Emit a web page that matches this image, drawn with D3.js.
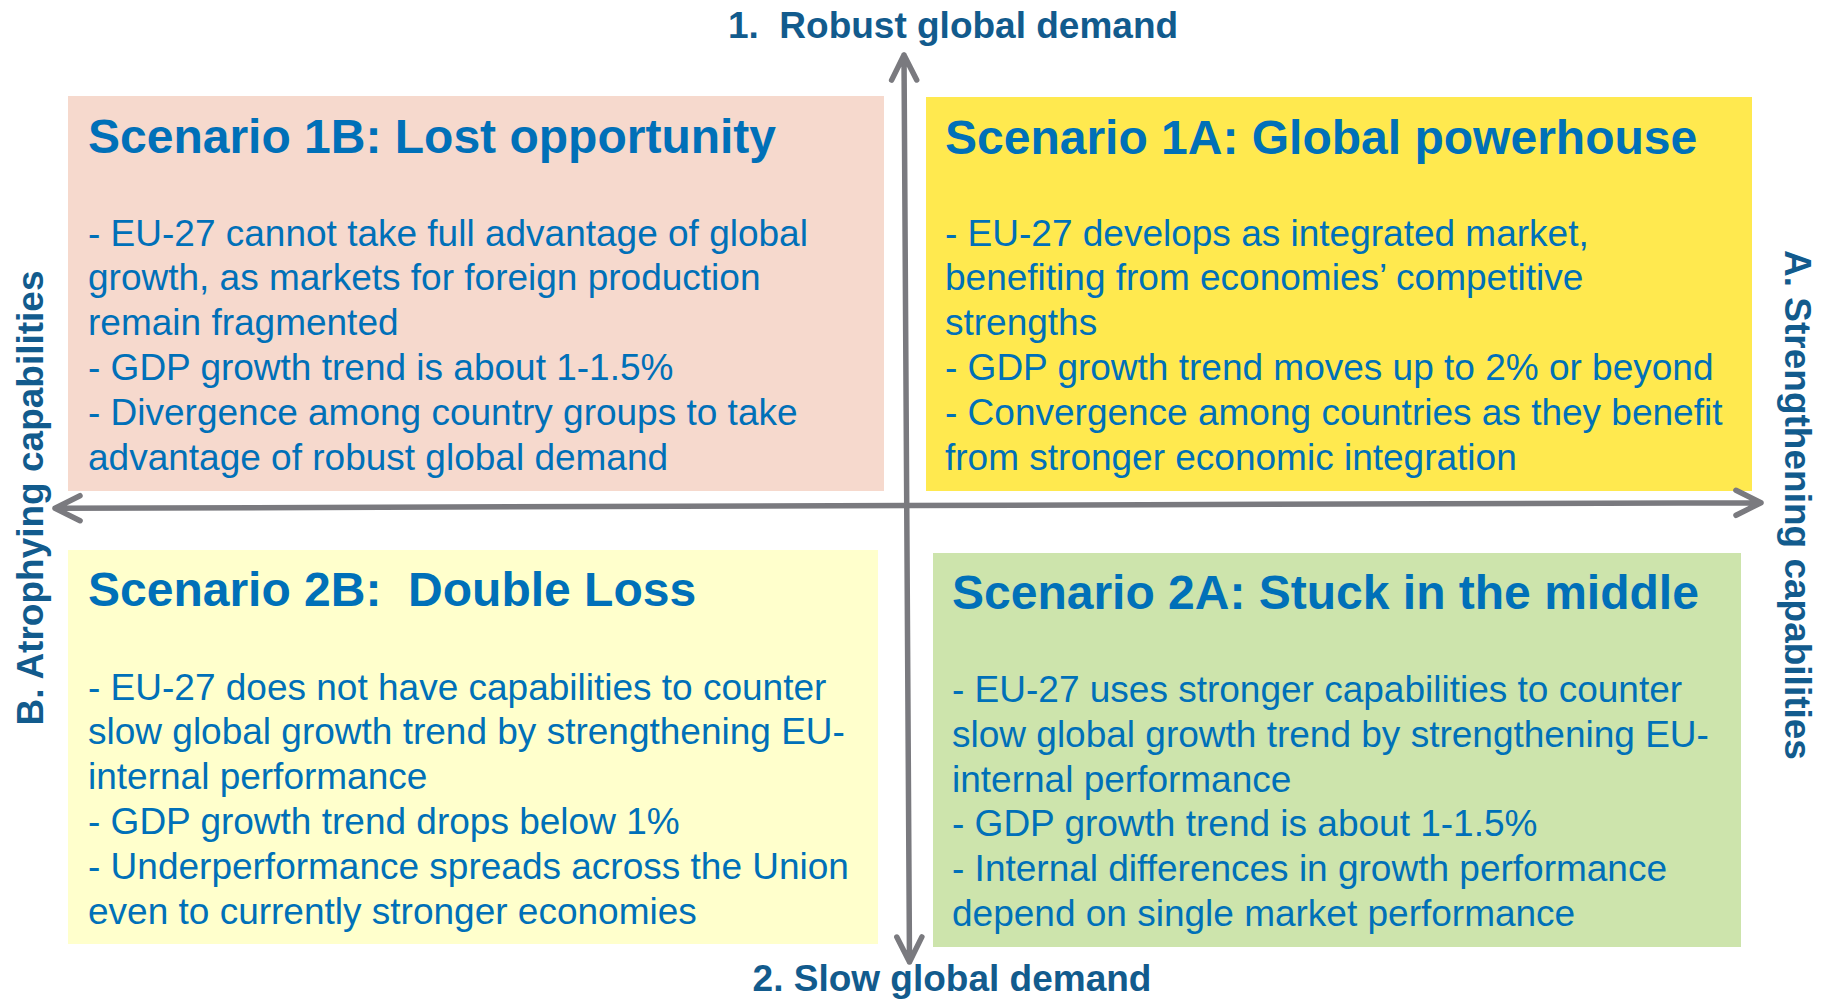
<!DOCTYPE html>
<meta charset="utf-8">
<html>
<head>
    <title>EU-27 growth scenarios</title>
    <script src="https://cdn.jsdelivr.net/npm/d3@7"></script>
</head>

<style>
    body{
        margin: 0;
        background: white;
    }
    svg{
        display: block;
    }
    text{
        font-family: "Liberation Sans", Arial, sans-serif;
        white-space: pre;
    }
    .title{
        font-size: 48px;
        font-weight: bold;
        fill: #0070b8;
    }
    .bullet{
        font-size: 37px;
        fill: #0070b8;
    }
    .axislabel{
        font-size: 37px;
        font-weight: bold;
        fill: #125b8d;
    }
    .arrow{
        stroke: #7a7a7f;
        stroke-width: 5.5px;
        fill: none;
        stroke-linecap: round;
        stroke-linejoin: round;
    }
</style>

<body>
<svg width="1825" height="999"></svg>

<script>
    // quadrant ids: demand row (1 robust / 2 slow) + capability column (A strengthening / B atrophying)
    const quadrants = ["1B", "1A", "2B", "2A"];
    const titles = [
        "Scenario 1B: Lost opportunity",
        "Scenario 1A: Global powerhouse",
        "Scenario 2B:  Double Loss",
        "Scenario 2A: Stuck in the middle"
    ];
    const bullets = [
        ["- EU-27 cannot take full advantage of global",
         "growth, as markets for foreign production",
         "remain fragmented",
         "- GDP growth trend is about 1-1.5%",
         "- Divergence among country groups to take",
         "advantage of robust global demand"],
        ["- EU-27 develops as integrated market,",
         "benefiting from economies\u2019 competitive",
         "strengths",
         "- GDP growth trend moves up to 2% or beyond",
         "- Convergence among countries as they benefit",
         "from stronger economic integration"],
        ["- EU-27 does not have capabilities to counter",
         "slow global growth trend by strengthening EU-",
         "internal performance",
         "- GDP growth trend drops below 1%",
         "- Underperformance spreads across the Union",
         "even to currently stronger economies"],
        ["- EU-27 uses stronger capabilities to counter",
         "slow global growth trend by strengthening EU-",
         "internal performance",
         "- GDP growth trend is about 1-1.5%",
         "- Internal differences in growth performance",
         "depend on single market performance"]
    ];
    const fills = ["#f6d9cd", "#ffe94f", "#ffffcc", "#cde4ac"];

    const demandLabels = ["1.  Robust global demand", "2. Slow global demand"];
    const capabilityLabels = ["A. Strengthening capabilities", "B. Atrophying capabilities"];

    const svg = d3.select("svg");

    // ***************************************
    //        layout scales
    // ***************************************
    const boxX0 = d3.scaleOrdinal(quadrants, [68, 926, 68, 933]);
    const boxX1 = d3.scaleOrdinal(quadrants, [884, 1752, 878, 1741]);
    const boxY0 = d3.scaleOrdinal(quadrants, [96, 97, 550, 553]);
    const boxY1 = d3.scaleOrdinal(quadrants, [491, 491, 944, 947]);
    const textX = d3.scaleOrdinal(quadrants, [88, 945, 88, 952]);
    const titleY = d3.scaleOrdinal(quadrants, [153, 154, 606, 609]);
    const firstLineY = d3.scaleOrdinal(quadrants, [245.5, 245.5, 699.5, 702]);
    const lineY = d3.scaleLinear().domain([0, 1]).range([0, 44.8]);

    // axes: capability runs left (-1) to right (+1), demand runs slow (-1) to robust (+1)
    const capX = d3.scaleLinear().domain([-1, 1]).range([55, 1761]);
    const capY = d3.scaleLinear().domain([-1, 1]).range([508.3, 502.7]);
    const demY = d3.scaleLinear().domain([-1, 1]).range([962, 55]);
    const demX = d3.scaleLinear().domain([-1, 1]).range([909.5, 904]);

    const data = quadrants.map((q, i) => ({id: q, title: titles[i], lines: bullets[i], fill: fills[i]}));

    const cells = svg.selectAll("g.cell")
        .data(data)
        .join("g")
        .attr("class", "cell");

    cells.append("rect")
        .attr("x", d => boxX0(d.id))
        .attr("y", d => boxY0(d.id))
        .attr("width", d => boxX1(d.id) - boxX0(d.id))
        .attr("height", d => boxY1(d.id) - boxY0(d.id))
        .style("fill", d => d.fill);

    cells.append("text")
        .attr("class", "title")
        .attr("x", d => textX(d.id))
        .attr("y", d => titleY(d.id))
        .text(d => d.title);

    cells.each(function(d){
        d3.select(this).selectAll("text.bullet")
            .data(d.lines)
            .join("text")
            .attr("class", "bullet")
            .attr("x", textX(d.id))
            .attr("y", (t, i) => firstLineY(d.id) + lineY(i))
            .text(t => t);
    });

    // ***************************************
    //        arrows
    // ***************************************
    const arm = 28, ang = 26.6 * Math.PI / 180;
    function arrow(x1, y1, x2, y2){
        const a = Math.atan2(y2 - y1, x2 - x1);
        const l = [x2 - arm * Math.cos(a - ang), y2 - arm * Math.sin(a - ang)];
        const r = [x2 - arm * Math.cos(a + ang), y2 - arm * Math.sin(a + ang)];
        return `M${x1},${y1}L${x2},${y2}M${l[0]},${l[1]}L${x2},${y2}L${r[0]},${r[1]}`;
    }
    const axes = svg.append("g");
    // horizontal double arrow
    axes.append("path").attr("class", "arrow")
        .attr("d", arrow(capX(0), capY(0), capX(1), capY(1)) + arrow(capX(0), capY(0), capX(-1), capY(-1)));
    // vertical double arrow
    axes.append("path").attr("class", "arrow")
        .attr("d", arrow(demX(0), demY(0), demX(1), demY(1)) + arrow(demX(0), demY(0), demX(-1), demY(-1)));

    // ***************************************
    //        axis labels
    // ***************************************
    svg.append("text").attr("class", "axislabel")
        .attr("x", 953).attr("y", 37.5)
        .attr("text-anchor", "middle")
        .text(demandLabels[0]);
    svg.append("text").attr("class", "axislabel")
        .attr("x", 952).attr("y", 991)
        .attr("text-anchor", "middle")
        .text(demandLabels[1]);
    svg.append("text").attr("class", "axislabel")
        .attr("transform", "translate(1785,505) rotate(90)")
        .attr("text-anchor", "middle")
        .text(capabilityLabels[0]);
    svg.append("text").attr("class", "axislabel")
        .attr("transform", "translate(43,498) rotate(-90)")
        .attr("text-anchor", "middle")
        .text(capabilityLabels[1]);
</script>
</body>
</html>
